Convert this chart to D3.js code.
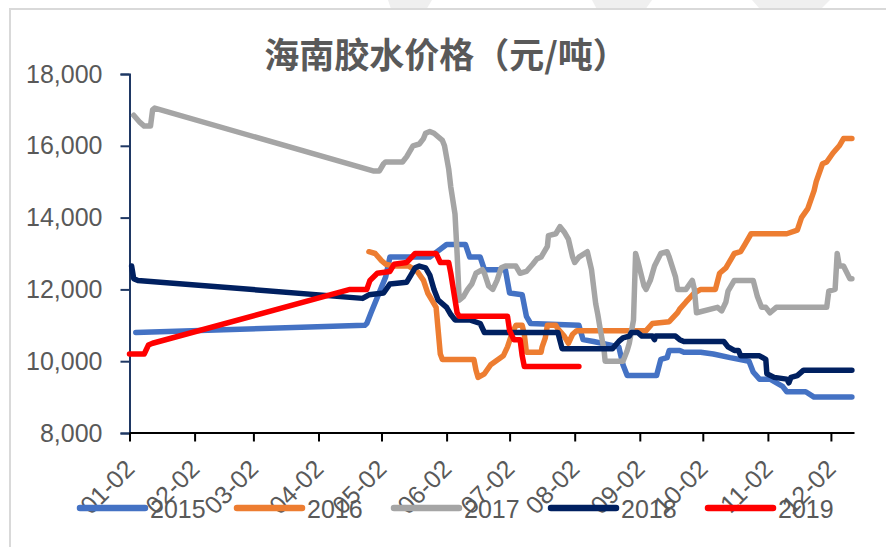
<!DOCTYPE html>
<html><head><meta charset="utf-8">
<script src="https://cdn.jsdelivr.net/npm/d3@7"></script>
<style>html,body{margin:0;padding:0;background:#fff;}svg{display:block;}</style>
</head><body>
<svg id="c" width="886" height="547"></svg>
<script>
// ---- data (day-of-year, price in yuan/ton) ----
const years = ["2015", "2016", "2017", "2018", "2019"];
const xTickLabels = ["01-02","02-02","03-02","04-02","05-02","06-02","07-02","08-02","09-02","10-02","11-02","12-02"];
const yTickValues = [8000, 10000, 12000, 14000, 16000, 18000];
const s2015 = [[5,10800],[114,11000],[115,11050],[117,11350],[124,12350],[126,12900],[145,12900],[153,13250],[162,13250],[164,12900],[169,12900],[171,12550],[181,12550],[183,11900],[189,11850],[191,11250],[193,11050],[216,11000],[218,10600],[223,10550],[235,10400],[237,9900],[239,9600],[253,9600],[255,10050],[258,10100],[259,10300],[264,10300],[266,10250],[274,10250],[280,10200],[288,10100],[297,10000],[299,9700],[302,9500],[307,9500],[313,9300],[315,9150],[324,9150],[328,9000],[346,9000]];
const s2016 = [[116,13050],[119,13000],[122,12800],[124,12700],[128,12650],[135,12650],[139,12500],[142,12250],[144,11900],[146,11700],[148,11500],[150,10200],[151,10050],[166,10050],[167,9750],[168,9550],[171,9650],[174,9900],[180,10150],[182,10400],[184,10750],[186,11000],[189,11000],[190,10750],[191,10250],[198,10250],[198.5,10400],[200,10650],[201,11000],[205,11000],[206,10900],[209,10700],[211,10500],[213,10750],[215,10850],[248,10850],[251,11050],[259,11100],[263,11350],[264,11450],[267,11650],[271,11900],[274,12000],[281,12000],[283,12450],[286,12600],[290,13000],[293,13050],[295,13250],[298,13550],[315,13550],[320,13650],[322,14000],[325,14250],[328,14750],[329,15000],[332,15500],[334,15550],[337,15800],[340,16000],[342,16200],[346,16200]];
const s2017 = [[4,16850],[7,16650],[9,16550],[12,16550],[13,17000],[14,17050],[118,15300],[121,15300],[123,15500],[124,15550],[132,15550],[134,15700],[137,16000],[140,16050],[142,16200],[143,16350],[145,16400],[147,16350],[151,16150],[152,16000],[154,15350],[155,14850],[157,14100],[158,13000],[159,11700],[161,11800],[163,12000],[165,12150],[167,12450],[170,12550],[171,12450],[173,12100],[175,12000],[177,12250],[179,12600],[181,12650],[186,12650],[188,12450],[191,12500],[194,12700],[196,12850],[198,12900],[201,13200],[201.5,13500],[205,13550],[207,13750],[209,13600],[211,13400],[213,12900],[214,12750],[216,12900],[220,13050],[222,12550],[224,11600],[225,11300],[226,10950],[228,10300],[228.5,10000],[237,10000],[239,10300],[240,10500],[242,11150],[243,13000],[244,12800],[247,12100],[248,12000],[250,12250],[251,12450],[252,12650],[255,13000],[258,13050],[259,12900],[262,12350],[263,12000],[267,12000],[270,12250],[271,12000],[272,11350],[282,11500],[284,11400],[286,11650],[287,11950],[290,12250],[299,12250],[301,11800],[303,11500],[305,11500],[307,11350],[310,11500],[334,11500],[335,11950],[338,12000],[339,13000],[340,12650],[342,12650],[345,12300],[346,12300]];
const s2018 = [[3,12650],[4,12300],[6,12250],[113,11750],[116,11850],[123,11900],[126,12150],[134,12200],[136,12400],[138,12600],[140,12650],[143,12600],[145,12400],[147,12000],[149,11700],[153,11500],[155,11300],[157,11150],[164,11150],[169,11050],[171,10800],[206,10800],[208,10350],[232,10350],[235,10550],[237,10650],[240,10700],[241,10800],[244,10800],[246,10700],[251,10700],[252,10600],[252.5,10700],[262,10700],[264,10600],[266,10550],[285,10550],[287,10400],[290,10300],[292,10300],[293,10150],[302,10150],[305,10050],[305.5,9650],[309,9550],[315,9500],[316,9400],[317,9550],[320,9600],[323,9750],[346,9750]];
const s2019 = [[2,10200],[9,10200],[11,10450],[13,10500],[107,12000],[115,12000],[116.5,12250],[120,12450],[126,12500],[128,12700],[134,12750],[138,13000],[148,13000],[150,12750],[154,12750],[155,12450],[158,11350],[159,11250],[182,11250],[183,10850],[185,10600],[188,10600],[189,10150],[190,9850],[216,9850]];
const seriesData = [s2015, s2016, s2017, s2018, s2019];
const seriesColors = ["#4472C4", "#ED7D31", "#A5A5A5", "#002060", "#FF0000"];
const domainDays = [2, 347];

// ---- helpers ----
const dayToDate = d => new Date(Date.UTC(2019, 0, 1) + (d - 1) * 86400000);
const labelToDate = s => new Date(Date.UTC(2019, +s.slice(0,2) - 1, +s.slice(3,5)));

const svg = d3.select("#c");
const FONT = "'Liberation Sans', Arial, sans-serif";
const TXT = "#595959";

// faint background shapes at top
const bg = svg.append("g");
[[[388,0],[432,0],[414,30],[398,30]],[[592,0],[652,0],[628,34],[610,34]],[[752,0],[830,0],[800,30],[778,30]]].forEach(p=>{
  bg.append("polygon").attr("points", p.map(q=>q.join(",")).join(" ")).attr("fill","#EFEFEF");
});
// outer frame
svg.append("rect").attr("x",10).attr("y",9).attr("width",890).attr("height",560)
  .attr("fill","#fff").attr("stroke","#D9D9D9").attr("stroke-width",2);

const x = d3.scaleUtc().domain(domainDays.map(dayToDate)).range([129.5, 854]);
const y = d3.scaleLinear().domain([8000, 18000]).range([433, 74]);

// title
svg.append("text").attr("x", 446).attr("y", 68).attr("text-anchor","middle")
  .attr("font-family","'Noto Sans CJK SC', sans-serif").attr("font-weight","bold")
  .attr("font-size", 35).attr("fill", TXT).text("海南胶水价格（元/吨）");

// y axis
const yAxis = svg.append("g").attr("transform","translate(129.5,0)")
  .call(d3.axisLeft(y).tickValues(yTickValues).tickFormat(d3.format(",")).tickSize(9).tickPadding(18));
yAxis.select(".domain").attr("stroke","#1F3864").attr("stroke-width",2);
yAxis.selectAll(".tick line").attr("stroke","#1F3864").attr("stroke-width",2);
yAxis.selectAll("text").attr("font-family",FONT).attr("font-size",25).attr("fill",TXT);

// x axis
const xAxis = svg.append("g").attr("transform","translate(0,432.5)")
  .call(d3.axisBottom(x).tickValues(xTickLabels.map(labelToDate)).tickFormat(d3.utcFormat("%m-%d")).tickSize(9).tickSizeOuter(0));
xAxis.select(".domain").attr("stroke","#000").attr("stroke-width",2);
xAxis.selectAll(".tick line").attr("stroke","#000").attr("stroke-width",2);
xAxis.selectAll("text").attr("font-family",FONT).attr("font-size",25).attr("fill",TXT)
  .attr("text-anchor","end").attr("dy",0).attr("y",0)
  .attr("transform","translate(6,38) rotate(-45)");

// lines
const line = d3.line().x(d => x(dayToDate(d[0]))).y(d => y(d[1]));
svg.append("g").selectAll("path").data(seriesData).join("path")
  .attr("d", line).attr("fill","none")
  .attr("stroke", (d,i) => seriesColors[i]).attr("stroke-width", 5.5)
  .attr("stroke-linejoin","round").attr("stroke-linecap","round");

// legend
const lg = svg.append("g").selectAll("g").data(years).join("g")
  .attr("transform", (d,i) => `translate(${80 + i*157},508)`);
lg.append("line").attr("x1",0).attr("x2",65).attr("y1",0).attr("y2",0)
  .attr("stroke",(d,i)=>seriesColors[i]).attr("stroke-width",6.5).attr("stroke-linecap","round");
lg.append("text").attr("x",70).attr("y",10).attr("font-family",FONT).attr("font-size",25)
  .attr("fill",TXT).text(d=>d);
</script>
</body></html>
